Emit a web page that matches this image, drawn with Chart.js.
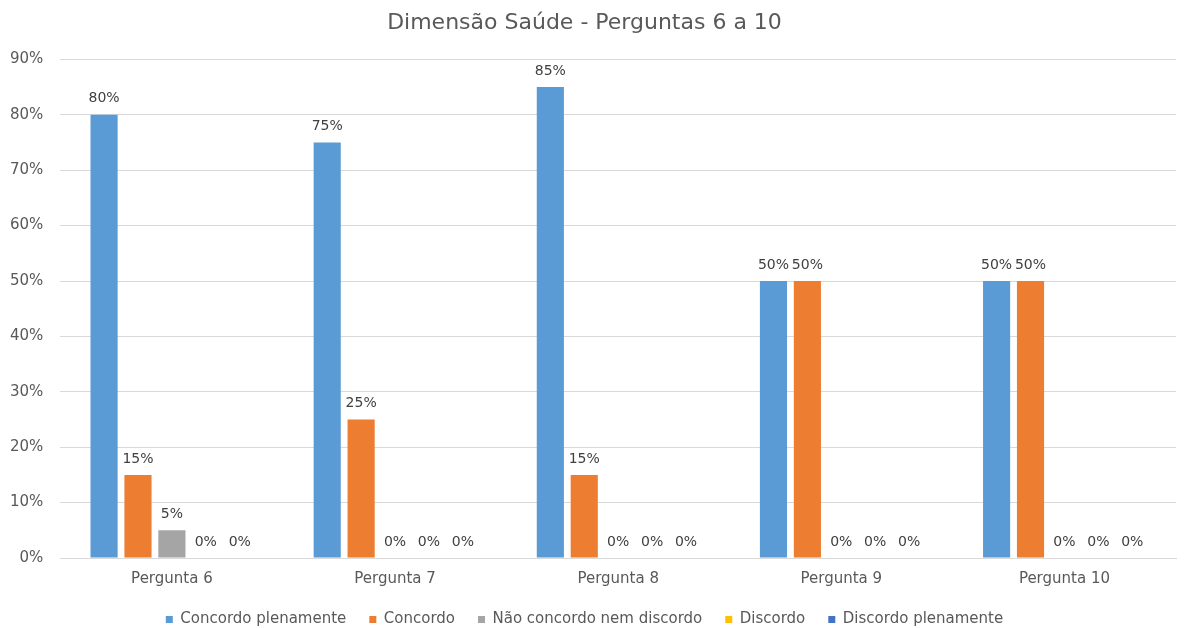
<!DOCTYPE html>
<html>
<head>
    <title>Dimensão Saúde</title>
    <script src="https://cdn.jsdelivr.net/npm/chart.js"></script>
    <style>
        html, body { margin: 0; padding: 0; background: #fff; }
        #wrap { width: 1188px; height: 628px; }
    </style>
</head>
<body>
    <div id="wrap"><canvas id="saudeChart"></canvas></div>

    <script>
        const categories = ["Pergunta 6", "Pergunta 7", "Pergunta 8", "Pergunta 9", "Pergunta 10"];
        const seriesNames = ["Concordo plenamente", "Concordo", "Não concordo nem discordo", "Discordo", "Discordo plenamente"];
        const concordoPlenamente = [0.80, 0.75, 0.85, 0.50, 0.50];
        const concordo = [0.15, 0.25, 0.15, 0.50, 0.50];
        const naoConcordo = [0.05, 0, 0, 0, 0];
        const discordo = [0, 0, 0, 0, 0];
        const discordoPlenamente = [0, 0, 0, 0, 0];
        const yTicks = [0, 0.1, 0.2, 0.3, 0.4, 0.5, 0.6, 0.7, 0.8, 0.9];

        const colors = ["#5b9bd5", "#ed7d31", "#a5a5a5", "#ffc000", "#4472c4"];
        const values = [concordoPlenamente, concordo, naoConcordo, discordo, discordoPlenamente];
        const fontFamily = "'DejaVu Sans', sans-serif";

        // draws the percent label above every bar
        const barLabels = {
            id: "barLabels",
            afterDatasetsDraw(chart) {
                const ctx = chart.ctx;
                ctx.save();
                ctx.font = "14px " + fontFamily;
                ctx.fillStyle = "#404040";
                ctx.textAlign = "center";
                ctx.textBaseline = "bottom";
                chart.data.datasets.forEach((ds, i) => {
                    chart.getDatasetMeta(i).data.forEach((bar, j) => {
                        ctx.fillText(Math.round(ds.data[j] * 100) + "%", bar.x, bar.y - 9);
                    });
                });
                ctx.restore();
            }
        };

        new Chart(document.getElementById("saudeChart"), {
            type: "bar",
            data: {
                labels: categories,
                datasets: seriesNames.map((name, i) => ({
                    label: name,
                    data: values[i],
                    backgroundColor: colors[i],
                    categoryPercentage: 0.76,
                    barPercentage: 0.8
                }))
            },
            options: {
                responsive: true,
                maintainAspectRatio: false,
                animation: false,
                // legend sits a little lower than Chart.js puts it by default
                layout: { padding: { left: -7, right: 12, top: 0, bottom: -9 } },
                plugins: {
                    title: {
                        display: true,
                        text: "Dimensão Saúde - Perguntas 6 a 10",
                        color: "#595959",
                        font: { family: fontFamily, size: 22, weight: "normal" },
                        padding: { top: 10, bottom: 23 }
                    },
                    legend: {
                        position: "bottom",
                        labels: {
                            color: "#595959",
                            font: { family: fontFamily, size: 15 },
                            boxWidth: 7,
                            boxHeight: 7,
                            padding: 23
                        }
                    },
                    tooltip: { enabled: false }
                },
                scales: {
                    x: {
                        grid: { display: false, drawTicks: false },
                        border: { color: "#d9d9d9" },
                        ticks: { color: "#595959", font: { family: fontFamily, size: 15 }, padding: 12 },
                        afterFit: (axis) => { axis.height -= 11; }
                    },
                    y: {
                        min: 0,
                        max: 0.9,
                        afterBuildTicks: (axis) => { axis.ticks = yTicks.map(v => ({ value: v })); },
                        grid: { color: "#d9d9d9", drawTicks: false },
                        border: { display: false },
                        ticks: {
                            color: "#595959",
                            font: { family: fontFamily, size: 15 },
                            padding: 17,
                            callback: (v) => Math.round(v * 100) + "%"
                        }
                    }
                }
            },
            plugins: [barLabels]
        });
    </script>
</body>
</html>
